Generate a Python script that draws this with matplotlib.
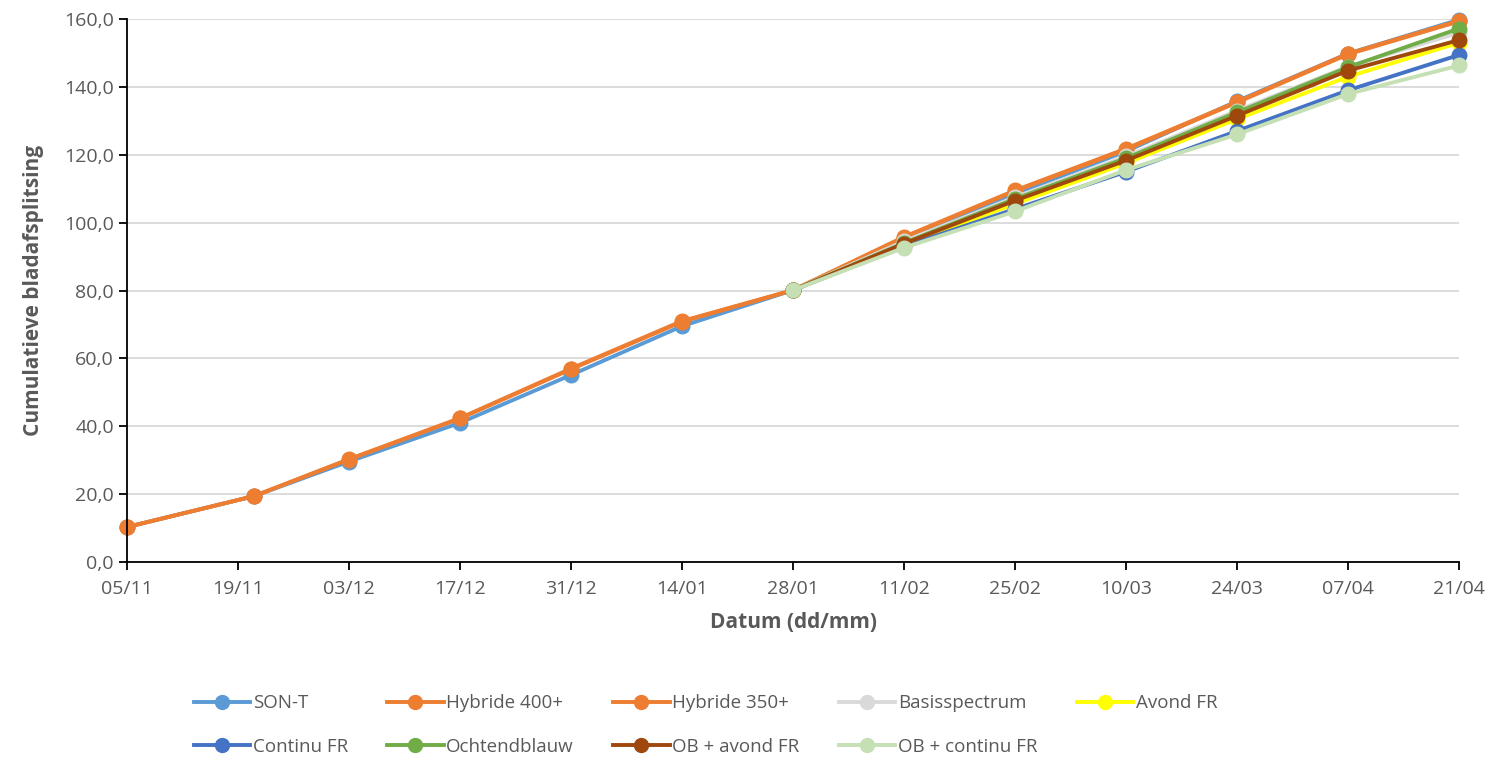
import matplotlib
matplotlib.use('Agg')
import matplotlib.pyplot as plt
import matplotlib.dates as mdates
from matplotlib.ticker import FuncFormatter, MultipleLocator
import numpy as np
from datetime import datetime, timedelta

plt.rcParams['font.family'] = ['Open Sans', 'DejaVu Sans']

# meetdata
dates_all = ['2019-11-05', '2019-11-21', '2019-12-03', '2019-12-17', '2019-12-31',
             '2020-01-14', '2020-01-28', '2020-02-11', '2020-02-25', '2020-03-10',
             '2020-03-24', '2020-04-07', '2020-04-21']
dates_late = dates_all[6:]

son_t = [10.3, 19.4, 29.6, 41.0, 55.1, 69.5, 80.1, 95.0, 108.5, 121.0, 135.8, 149.8, 159.8]
hybride_400 = [10.3, 19.4, 30.3, 42.4, 57.0, 71.0, 80.1, 95.8, 109.5, 121.8, 135.6, 149.8, 159.5]
hybride_350 = [10.3, 19.4, 30.2, 42.3, 56.8, 70.8, 80.1, 95.6, 109.3, 121.5, 135.4, 149.6, 159.3]
basisspectrum = [80.1, 94.5, 107.5, 119.5, 133.0, 146.0, 156.0]
avond_fr = [80.1, 93.5, 105.5, 117.5, 130.5, 143.0, 153.0]
continu_fr = [80.1, 93.0, 104.0, 115.0, 127.0, 139.0, 149.4]
ochtendblauw = [80.1, 94.0, 107.0, 119.0, 132.5, 145.8, 157.2]
ob_avond_fr = [80.1, 93.8, 106.5, 118.3, 131.5, 144.8, 153.8]
ob_continu_fr = [80.1, 92.6, 103.3, 115.5, 126.0, 137.9, 146.3]

series = [
    ('SON-T', dates_all, son_t, '#5B9BD5'),
    ('Hybride 400+', dates_all, hybride_400, '#ED7D31'),
    ('Hybride 350+', dates_all, hybride_350, '#ED7D31'),
    ('Basisspectrum', dates_late, basisspectrum, '#D9D9D9'),
    ('Avond FR', dates_late, avond_fr, '#FFFF00'),
    ('Continu FR', dates_late, continu_fr, '#4472C4'),
    ('Ochtendblauw', dates_late, ochtendblauw, '#70AD47'),
    ('OB + avond FR', dates_late, ob_avond_fr, '#9E480E'),
    ('OB + continu FR', dates_late, ob_continu_fr, '#C5E0B4'),
]

fig = plt.figure(figsize=(14.95, 7.6), dpi=100)
ax = fig.add_axes([127 / 1495, 1 - 562 / 760, (1459 - 127) / 1495, (562 - 19) / 760])

handles = []
for name, d, vals, col in series:
    x = [datetime.strptime(s, '%Y-%m-%d') for s in d]
    h, = ax.plot(x, vals, color=col, lw=2.8, marker='o', markersize=10.5,
                 label=name, solid_joinstyle='round', clip_on=False)
    handles.append(h)

start = datetime(2019, 11, 5)
end = datetime(2020, 4, 21)
ticks = [start + timedelta(days=14 * i) for i in range(13)]
ax.set_xlim(start, end)
ax.set_xticks(ticks)
ax.xaxis.set_major_formatter(mdates.DateFormatter('%d/%m'))
ax.set_ylim(0, 160)
ax.yaxis.set_major_locator(MultipleLocator(20))
ax.yaxis.set_major_formatter(FuncFormatter(lambda v, p: f'{v:.1f}'.replace('.', ',')))

ax.grid(axis='y', color='#D9D9D9', lw=1.3)
ax.set_axisbelow(True)
for s in ['top', 'right']:
    ax.spines[s].set_visible(False)
for s in ['left', 'bottom']:
    ax.spines[s].set_color('black')
    ax.spines[s].set_linewidth(1.3)
ax.tick_params(axis='both', colors='black', labelcolor='#595959', labelsize=14,
               length=6, width=1.3)
ax.tick_params(axis='x', pad=7)

ax.set_xlabel('Datum (dd/mm)', fontsize=15, fontweight='bold', color='#595959', labelpad=10)
ax.set_ylabel('Cumulatieve bladafsplitsing', fontsize=15, fontweight='bold',
              color='#595959', labelpad=14)

order = [0, 5, 1, 6, 2, 7, 3, 8, 4]
leg = fig.legend([handles[i] for i in order], [series[i][0] for i in order],
                 loc='center', bbox_to_anchor=(0.472, 0.046), ncol=5, frameon=False,
                 fontsize=13.5, handlelength=3.0, columnspacing=2.1,
                 labelspacing=1.35, handletextpad=0.15)
for t in leg.get_texts():
    t.set_color('#595959')
for h in leg.legend_handles:
    h.set_markersize(10)

fig.savefig('out.png', dpi=100)
